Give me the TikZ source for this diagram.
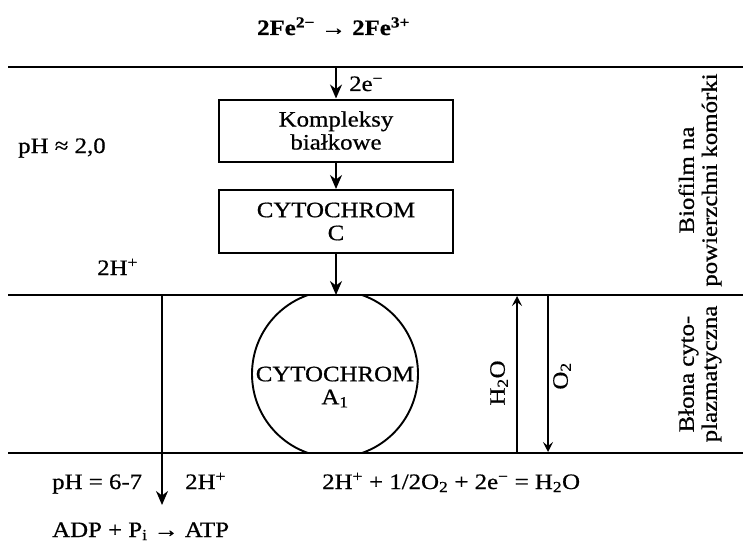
\documentclass[tikz,border=0pt]{standalone}
\usepackage{fontspec}
\setmainfont{Liberation Serif}[FakeStretch=1.13,FakeBold=0.7]
\usetikzlibrary{arrows.meta,shapes.geometric}
\begin{document}
\begin{tikzpicture}[x=1pt,y=-1pt,
  lbl/.style={font=\fontsize{22}{23}\selectfont, inner sep=0pt},
  boxnode/.style={draw, line width=2pt, minimum width=234pt, minimum height=62pt, align=center, lbl},
  arr/.style={line width=1.8pt, -{Stealth[length=14pt,width=12pt]}},
  thinarr/.style={line width=1.4pt, -{Stealth[length=10pt,width=10pt,inset=4pt]}},
  band/.style={line width=2.5pt}]
\useasboundingbox (0,0) rectangle (747,543);
% membrane lines
\coordinate (l1w) at (8,67);  \coordinate (l1e) at (743,67);
\coordinate (l2w) at (8,295); \coordinate (l2e) at (743,295);
\coordinate (l3w) at (8,453); \coordinate (l3e) at (743,453);
\draw[band] (l1w) -- (l1e);
\draw[band] (l2w) -- (l2e);
\draw[band] (l3w) -- (l3e);
% top reaction
\node[lbl, font=\fontsize{22}{23}\selectfont\bfseries, anchor=base west] (fe) at (257,35) {2Fe\textsuperscript{2−} → 2Fe\textsuperscript{3+}};
% boxes
\node[boxnode] (kb) at (336,130.5) {Kompleksy\\białkowe};
\node[boxnode, minimum height=63pt] (cc) at (336,221.5) {CYTOCHROM\\C};
% cytochrom A1
\begin{scope}
\clip (0,295) rectangle (747,453);
\node[draw, ellipse, line width=1.9pt, minimum width=166pt, minimum height=167pt, inner sep=0pt] (ca) at (335,374) {};
\end{scope}
\node[lbl, align=center] (catext) at (335,387) {CYTOCHROM\\A\textsubscript{1}};
% arrows
\coordinate (e0) at (336,67);
\draw[arr] (e0) -- (kb.north);
\node[lbl, anchor=base west] (e2) at (349,91) {2e\textsuperscript{−}};
\draw[arr] (kb.south) -- (cc.north);
\coordinate (catop) at (336,295);
\draw[arr] (cc.south) -- (catop);
\coordinate (h1) at (162,295); \coordinate (h2) at (162,505);
\draw[arr] (h1) -- (h2);
\coordinate (w1) at (517,453); \coordinate (w2) at (517,296);
\draw[thinarr] (w1) -- (w2);
\coordinate (o1) at (548,295); \coordinate (o2) at (548,452);
\draw[thinarr] (o1) -- (o2);
\node[lbl, rotate=90] (h2o) at (499,383) {H\textsubscript{2}O};
\node[lbl, rotate=90] (o2l) at (562,376) {O\textsubscript{2}};
% left labels
\node[lbl, anchor=base west] (ph1) at (18,153) {pH ≈ 2,0};
\node[lbl, anchor=base west] (hp1) at (97,275) {2H\textsuperscript{+}};
% right labels
\node[lbl, rotate=90, align=center] (bio) at (700,180) {Biofilm na\\powierzchni komórki};
\node[lbl, rotate=90, align=center] (blo) at (700,374) {Błona cyto-\\plazmatyczna};
% bottom labels
\node[lbl, anchor=base west] (ph2) at (52,489) {pH = 6-7};
\node[lbl, anchor=base west] (hp2) at (185,489) {2H\textsuperscript{+}};
\node[lbl, anchor=base west] (rx) at (322,489) {2H\textsuperscript{+} + 1/2O\textsubscript{2} + 2e\textsuperscript{−} = H\textsubscript{2}O};
\node[lbl, anchor=base west] (atp) at (52,537) {ADP + P\textsubscript{i} → ATP};
\end{tikzpicture}
\end{document}
